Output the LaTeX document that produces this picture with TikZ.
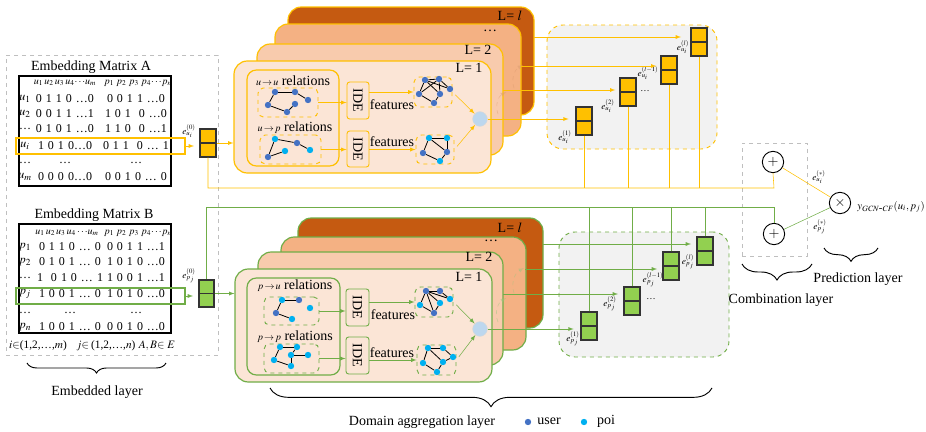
\documentclass[tikz,border=0pt]{standalone}
\usepackage{mathptmx}
\usepackage{fontspec}
\setmainfont{Liberation Serif}
\usetikzlibrary{fit}
\usetikzlibrary{arrows}
\usetikzlibrary{decorations.pathreplacing}

\definecolor{ylw}{HTML}{FFC000}
\definecolor{grn}{HTML}{70AD47}
\definecolor{lgrn}{HTML}{92D050}
\definecolor{brn}{HTML}{C55A11}
\definecolor{sal}{HTML}{F4B183}
\definecolor{pch}{HTML}{F8CBAD}
\definecolor{crm}{HTML}{FBE5D6}
\definecolor{aggc}{HTML}{BDD7EE}
\definecolor{usr}{HTML}{4472C4}
\definecolor{poi}{HTML}{00B0F0}
\definecolor{gbox}{HTML}{F2F2F2}

\tikzset{
  layer/.style={draw=#1, line width=0.9pt, rounded corners=10pt, inner sep=0pt},
  dbox/.style={draw=#1, dashed, line width=0.7pt, rounded corners=4pt, inner sep=0pt},
  ide/.style={draw=#1, line width=0.7pt, rounded corners=2pt, inner sep=0pt},
  vbox/.style={draw=black!80, line width=1pt, inner sep=0pt},
  gdot/.style={circle, inner sep=0pt, minimum size=4.8pt},
  agg/.style={circle, fill=aggc, draw=black!15, inner sep=0pt, minimum size=11pt},
  op/.style={circle, draw, line width=0.7pt, inner sep=0pt, minimum size=16pt},
  vlab/.style={font=\fontsize{7}{8}\selectfont, inner sep=1pt},
  mtx/.style={font=\fontsize{9}{10}\selectfont, inner sep=0pt},
  mhead/.style={font=\fontsize{7.5}{8}\selectfont, inner sep=0pt},
  brc/.style={decorate, decoration={brace, amplitude=#1}, line width=0.7pt},
}

% one row of an embedding matrix (left block centred at \lcx)
\newcommand{\wsp}{\spaceskip=3pt\relax}
\newcommand{\lcx}{65}
\newcommand{\mrow}[4]{\node at (25,#1) {#2}; \node at (\lcx,#1) {\wsp #3}; \node at (136,#1) {\wsp #4};}
% one embedding vector
\newcommand{\vecbox}[4]{\node[vbox, fill=#2, fit={(#3,#4)(#3+16,#4+28)}] (#1) {};
  \draw[line width=1pt, black!80] (#1.west) -- (#1.east);}

\begin{document}
\begin{tikzpicture}[x=0.75pt, y=-0.75pt, >=latex, font=\fontsize{10.5}{12}\selectfont]
\useasboundingbox (0,0) rectangle (926,432);

% embedded layer
\node[draw=black!25, dashed, line width=0.7pt, inner sep=0pt, fit={(6,55)(218,355)}] (emb) {};
\node at (91,67) {Embedding Matrix A};
\node[draw, line width=1pt, inner sep=0pt, fit={(19,76)(171,186)}] (matA) {};
\begin{scope}[every node/.style={mtx}]
\node[mhead] at (65,83) {$u_1\,u_2\,u_3\,u_4{\cdots}u_m$};
\node[mhead] at (138,83) {$p_1\,\,p_2\,\,p_3\,\,p_4{\cdots}p_n$};
\mrow{99}{$u_1$}{0 1 1 0 \dots0}{0 0 1 1 \dots0}
\mrow{114}{$u_2$}{0 0 1 1 \dots1}{1 0 1 \ 0 \dots0}
\mrow{129}{\dots}{0 1 0 1 \dots0}{1 1 0 \ 0 \dots1}
\mrow{146}{$u_i$}{1 0 1 0\dots0}{0 1 1 \ 0 \dots\ 1}
\mrow{163}{\dots}{\dots}{\dots}
\mrow{177}{$u_m$}{0 0 0 0\dots0}{0 0 1 0 \dots\ 0}
\end{scope}
\node[draw=ylw, line width=0.8pt, inner sep=0pt, fit={(16,138)(185,154)}] (rowA) {};
\vecbox{eu0}{ylw}{200}{129}
\node[vlab] at (189,131) {$e_{u_i}^{(0)}$};
\draw[->, ylw, shorten >=4pt] (rowA.east) -- (rowA.east -| eu0.west);

\node at (94,215) {Embedding Matrix B};
\node[draw, line width=1pt, inner sep=0pt, fit={(19,224)(171,333)}] (matB) {};
\renewcommand{\lcx}{70}
\begin{scope}[every node/.style={mtx}]
\node[mhead] at (67,233) {$u_1\,u_2\,u_3\,u_4\,{\cdots}u_m$};
\node[mhead] at (138,233) {$p_1\,\,p_2\,\,p_3\,\,p_4{\cdots}p_n$};
\mrow{247}{$p_1$}{0 1 1 0 \dots\ 0}{0 0 1 1 \dots1}
\mrow{262}{$p_2$}{0 1 0 1 \dots\ 0}{1 0 1 0 \dots0}
\mrow{278}{\dots}{1 \ 0 1 0 \dots\ 1}{1 0 0 1 \dots1}
\mrow{294}{$p_j$}{1 0 0 1 \dots\ 0}{1 0 1 0 \dots0}
\mrow{313}{\dots}{\dots}{\dots}
\mrow{327}{$p_n$}{1 0 0 1 \dots\ 0}{0 0 1 0 \dots0}
\end{scope}
\begin{scope}[every node/.style={font=\fontsize{8.5}{10}\selectfont, inner sep=0pt}]
\node at (38,346) {$i{\in}$(1,2,\dots,$m$)};
\node at (106,346) {$j{\in}$\,(1,2,\dots,$n$)};
\node at (157,346) {$A,B{\in}$ $E$};
\end{scope}
\node[draw=grn, line width=0.8pt, inner sep=0pt, fit={(16,288)(185,304)}] (rowB) {};
\node[vbox, fill=lgrn, fit={(199,280)(214,307)}] (ep0) {};
\draw[line width=1pt, black!80] (ep0.west) -- (ep0.east);
\node[vlab] at (189,276) {$e_{p_j}^{(0)}$};
\draw[->, grn, shorten >=4pt] (rowB.east) -- (rowB.east -| ep0.west);

\draw[brc=7.5pt] (166,363) -- (27,363);
\node at (97,392) {Embedded layer};

% upper domain aggregation layers
\node[layer=ylw, fill=brn, fit={(288,7)(534,115)}] (ul4) {};
\node[layer=ylw, fill=sal, fit={(275,24)(521,136)}] (ul3) {};
\node[layer=ylw, fill=pch, fit={(257,44)(503,155)}] (ul2) {};
\draw[->, brn!60, dashed, opacity=.5] (498,114) to[bend left=40] (506,92);
\draw[->, brn!60, dashed, opacity=.5] (514,88) to[bend left=40] (523,65);
\node[layer=ylw, fill=crm, fit={(234,61)(491,173)}] (ul1) {};
\node at (510,16) {L= $l$};
\node at (490,31) {\dots};
\node at (478,50) {L= 2};
\node at (469,68) {L= 1};

\node[layer=ylw, fill=crm, rounded corners=7pt, fit={(247,70)(339,166)}] (urel) {};
\node at (293,81) {{\fontsize{7.5}{8}\selectfont$u\!\rightarrow\!u$} relations};
\node at (295,128) {{\fontsize{7.5}{8}\selectfont$u\!\rightarrow\!p$} relations};
\node[dbox=ylw, fit={(258,88)(318,117)}] (ug1) {};
\node[dbox=ylw, fit={(260,135)(321,164)}] (ug2) {};
\node[ide=ylw, fit={(347,82)(369,119)}] (uide1) {};
\node[rotate=-90] at (uide1) {IDE};
\node[ide=ylw, fit={(347,131)(369,167)}] (uide2) {};
\node[rotate=-90] at (uide2) {IDE};
\node at (392,105) {features};
\node at (392,142) {features};
\node[dbox=ylw, fit={(414,77)(452,107)}] (ug3) {};
\node[dbox=ylw, fit={(416,135)(454,164)}] (ug4) {};
\node[agg] (uagg) at (480,119) {};

\draw[->, ylw] (ug1) -- (uide1.west |- ug1);
\draw[->, ylw] (ug2) -- (uide2.west |- ug2);
\draw[->, ylw] (uide1.east |- ug3) -- (ug3);
\draw[->, ylw] (uide2.east |- ug4) -- (ug4);
\draw[->, ylw, shorten <=3pt] (ug3.east) -- (uagg);
\draw[->, ylw, shorten <=3pt] (ug4.east) -- (uagg);
\draw[->, ylw] (eu0.east) -- (eu0.east -| ul1.west);

% small graphs, upper block
\foreach \nm/\x/\y/\c in {A1/275/92/usr, A2/295/92/usr, A3/308/100/usr, A4/295/104/usr, A5/268/105/usr, A6/287/112/usr,
  B1/275/139/poi, B2/297/143/usr, B3/310/150/poi, B4/285/151/poi, B5/268/157/usr,
  C1/425/80/usr, C2/439/79/usr, C3/450/89/usr, C4/419/94/usr, C5/440/94/usr, C6/434/103/usr,
  D1/429/138/poi, D2/447/138/poi, D3/447/152/usr, D4/423/153/usr, D5/440/161/poi}
  \node[gdot, fill=\c] (\nm) at (\x,\y) {};
\foreach \a/\b in {A1/A2, A2/A3, A1/A5, A5/A6, A6/A4, B1/B2, B2/B3, B1/B5, B5/B4,
  C1/C2, C2/C3, C1/C3, C1/C4, C4/C2, C4/C6, C5/C6, C2/C5, C1/C5,
  D1/D2, D1/D4, D1/D3, D2/D3, D4/D5, D5/D3}
  \draw[line width=0.6pt] (\a) -- (\b);

% upper layer outputs
\node[dbox=ylw, fill=gbox, rounded corners=12pt, fit={(547,25)(717,149)}] (ugray) {};
\vecbox{eu1}{ylw}{576}{107}
\vecbox{eu2}{ylw}{620}{78}
\vecbox{eu3}{ylw}{661}{56}
\vecbox{eu4}{ylw}{691}{28}
\node[vlab] at (565,137) {$e_{u_i}^{(1)}$};
\node[vlab] at (608,106) {$e_{u_i}^{(2)}$};
\node[vlab] at (645,91) {\dots};
\node[vlab] at (648,73) {$e_{u_i}^{(l-1)}$};
\node[vlab] at (683,47) {$e_{u_i}^{(l)}$};
\coordinate (uo2) at (503,90);
\coordinate (uo3) at (521,66);
\coordinate (uo4) at (534,37);
\draw[->, ylw, shorten >=5pt] (uagg) -- (uagg -| eu1.west);
\draw[->, ylw, shorten >=3pt] (uo2) -- (uo2 -| eu2.west);
\draw[->, ylw, shorten >=3pt] (uo3) -- (uo3 -| eu3.west);
\draw[->, ylw, shorten >=7pt] (uo4) -- (uo4 -| eu4.west);

% lower domain aggregation layers
\node[layer=grn, fill=brn, fit={(298,218)(543,328)}] (pl4) {};
\node[layer=grn, fill=sal, fit={(281,237)(526,350)}] (pl3) {};
\node[layer=grn, fill=pch, fit={(258,252)(503,365)}] (pl2) {};
\draw[->, grn!70, dashed, opacity=.5] (498,322) to[bend left=40] (506,298);
\draw[->, grn!70, dashed, opacity=.5] (514,293) to[bend left=40] (524,268);
\node[layer=grn, fill=crm, fit={(235,269)(492,382)}] (pl1) {};
\node at (510,228) {L= $l$};
\node at (491,241) {\dots};
\node at (479,257) {L= 2};
\node at (469,277) {L= 1};

\node[layer=grn, fill=crm, rounded corners=7pt, fit={(247,278)(340,375)}] (prel) {};
\node at (295,286) {{\fontsize{7.5}{8}\selectfont$p\!\rightarrow\!u$} relations};
\node at (295,337) {{\fontsize{7.5}{8}\selectfont$p\!\rightarrow\!p$} relations};
\node[dbox=grn, fit={(264,297)(319,325)}] (pg1) {};
\node[dbox=grn, fit={(264,344)(319,373)}] (pg2) {};
\node[ide=grn, fit={(346,289)(369,326)}] (pide1) {};
\node[rotate=-90] at (pide1) {IDE};
\node[ide=grn, fit={(346,337)(369,374)}] (pide2) {};
\node[rotate=-90] at (pide2) {IDE};
\node at (393,315) {features};
\node at (392,353) {features};
\node[dbox=grn, fit={(415,287)(453,317)}] (pg3) {};
\node[dbox=grn, fit={(417,345)(456,375)}] (pg4) {};
\node[agg] (pagg) at (480,329) {};

\draw[->, grn] (pg1) -- (pide1.west |- pg1);
\draw[->, grn] (pg2) -- (pide2.west |- pg2);
\draw[->, grn] (pide1.east |- pg3) -- (pg3);
\draw[->, grn] (pide2.east |- pg4) -- (pg4);
\draw[->, grn, shorten <=3pt] (pg3.east) -- (pagg);
\draw[->, grn, shorten <=3pt] (pg4.east) -- (pagg);
\draw[->, grn] (ep0.east) -- (ep0.east -| pl1.west);

% small graphs, lower block
\foreach \nm/\x/\y/\c in {E1/282/300/poi, E2/299/300/usr, E3/310/308/poi, E4/276/313/usr, E5/292/319/poi,
  F1/280/347/poi, F2/297/347/poi, F3/308/355/poi, F4/291/355/poi, F5/274/360/poi, F6/291/366/poi,
  G1/426/291/usr, G2/440/291/usr, G3/450/299/poi, G4/420/305/poi, G5/440/303/poi, G6/434/313/usr,
  H1/428/348/poi, H2/443/348/poi, H3/453/357/poi, H4/423/363/poi, H5/443/362/poi, H6/437/372/poi}
  \node[gdot, fill=\c] (\nm) at (\x,\y) {};
\foreach \a/\b in {E1/E2, E1/E4, E4/E5, F1/F2, F1/F5, F5/F6, F6/F4, F4/F3, F2/F4,
  G1/G2, G2/G3, G1/G3, G1/G5, G1/G6, G1/G4, G4/G6, G5/G6,
  H1/H2, H2/H3, H1/H4, H4/H6, H6/H5, H5/H3, H1/H5}
  \draw[line width=0.6pt] (\a) -- (\b);

% lower layer outputs
\node[dbox=grn, fill=gbox, rounded corners=12pt, fit={(559,232)(729,357)}] (pgray) {};
\vecbox{ep1}{lgrn}{581}{312}
\vecbox{ep2}{lgrn}{624}{287}
\vecbox{ep3}{lgrn}{663}{252}
\vecbox{ep4}{lgrn}{697}{237}
\node[vlab] at (573,339) {$e_{p_j}^{(1)}$};
\node[vlab] at (610,304) {$e_{p_j}^{(2)}$};
\node[vlab] at (651,299) {\dots};
\node[vlab] at (653,280) {$e_{p_j}^{(l-1)}$};
\node[vlab] at (688,262) {$e_{p_j}^{(l)}$};
\coordinate (po2) at (503,294);
\coordinate (po3) at (525,269);
\coordinate (po4) at (543,244);
\draw[->, grn, shorten >=5pt] (pagg) -- (pagg -| ep1.west);
\draw[->, grn, shorten >=4pt] (po2) -- (po2 -| ep2.west);
\draw[->, grn, shorten >=4pt] (po3) -- (po3 -| ep3.west);
\draw[->, grn, shorten >=4pt] (po4) -- (po4 -| ep4.west);

\draw[brc=14pt] (712,388) -- (270,388);
\node at (422,422) {Domain aggregation layer};
\node[gdot, fill=usr] (lgu) at (528,422) {};
\node at (549,421) {user};
\node[gdot, fill=poi] (lgp) at (584,422) {};
\node at (606,421) {poi};

% combination and prediction
\node[draw=black!25, dashed, line width=0.7pt, inner sep=0pt, fit={(742,143)(807,256)}] (comb) {};
\node[op] (uplus) at (773,162) {$+$};
\node[op] (pplus) at (774,234) {$+$};
\node[op] (prod) at (840,203) {$\times$};
\coordinate (ubus) at (774,188);
\coordinate (pbus) at (774,207);
\draw[ylw] (eu0.south) |- (ubus) -- (uplus.south);
\foreach \n in {eu1,eu2,eu3,eu4} \draw[ylw] (\n.south) -- (\n.south |- ubus);
\draw[grn] (ep0.north) |- (pbus) -- (pplus.north);
\foreach \n in {ep1,ep2,ep3,ep4} \draw[grn] (\n.north) -- (\n.north |- pbus);
\draw[ylw] (uplus) -- (prod);
\draw[grn] (pplus) -- (prod);
\node[vlab] at (819,177) {$e_{u_i}^{(*)}$};
\node[vlab] at (820,227) {$e_{p_j}^{(*)}$};
\node[anchor=west, inner sep=0pt, font=\fontsize{8}{9}\selectfont] at (857,207) {$y_{\mathit{GCN\mbox{-}CF}}(u_i,p_j)$};

\draw[brc=10pt] (878,248) -- (824,248);
\node at (858,279) {Prediction layer};
\draw[brc=12pt] (812,264) -- (742,264);
\node at (781,300) {Combination layer};
\end{tikzpicture}
\end{document}
